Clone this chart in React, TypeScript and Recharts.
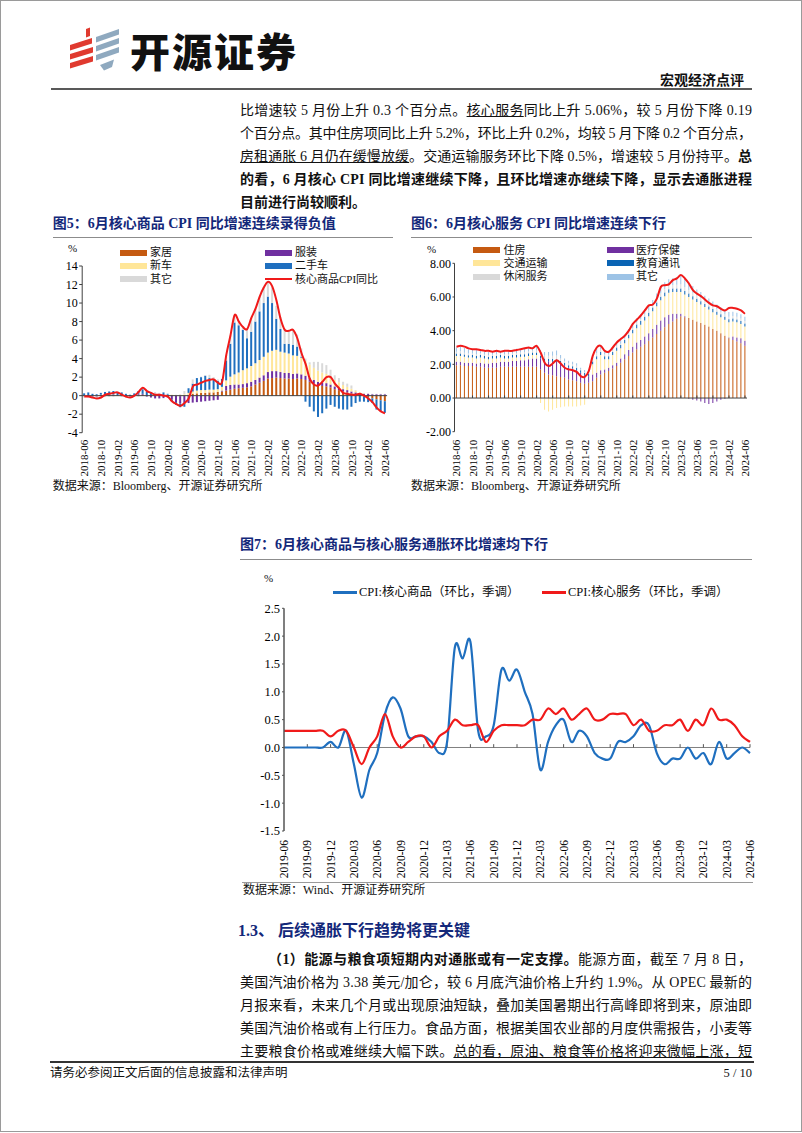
import React, { useLayoutEffect, useRef, useState } from 'react';
import { ComposedChart, LineChart, Bar, Line, XAxis, YAxis, ReferenceLine } from 'recharts';

const SERIF = "'Liberation Serif','Times New Roman',serif";
const MIX = "'Liberation Serif','Noto Sans CJK SC',serif";
const CJKSANS = "'Noto Sans CJK SC',sans-serif";
const NAVY = '#13287a';

// ---------- categories ----------
const months = [
  '2018-06','2018-07','2018-08','2018-09','2018-10','2018-11','2018-12',
  '2019-01','2019-02','2019-03','2019-04','2019-05','2019-06','2019-07','2019-08','2019-09','2019-10','2019-11','2019-12',
  '2020-01','2020-02','2020-03','2020-04','2020-05','2020-06','2020-07','2020-08','2020-09','2020-10','2020-11','2020-12',
  '2021-01','2021-02','2021-03','2021-04','2021-05','2021-06','2021-07','2021-08','2021-09','2021-10','2021-11','2021-12',
  '2022-01','2022-02','2022-03','2022-04','2022-05','2022-06','2022-07','2022-08','2022-09','2022-10','2022-11','2022-12',
  '2023-01','2023-02','2023-03','2023-04','2023-05','2023-06','2023-07','2023-08','2023-09','2023-10','2023-11','2023-12',
  '2024-01','2024-02','2024-03','2024-04','2024-05','2024-06',
];
const months7 = months.slice(12);

// ---------- Fig 5: core goods CPI YoY contributions ----------
const goodsHome = [
  0.05,0.05,0.0,0.0,0.05,0.05,0.1,0.1,0.05,0.05,0.0,0.0,0.05,0.1,0.1,0.05,0.05,0.0,0.0,0.05,0.05,
  0.05,0.0,-0.05,0.0,0.1,0.2,0.25,0.3,0.3,0.35,0.35,0.4,
  0.45,0.55,0.65,0.75,0.8,0.85,0.9,1.0,1.2,1.4,1.6,1.85,
  1.9,1.95,1.9,1.85,1.85,1.8,1.85,1.8,1.7,1.5,1.3,1.1,
  1.05,1.0,0.9,0.7,0.6,0.45,0.35,0.25,0.15,0.05,-0.1,-0.2,-0.3,-0.4,-0.5,-0.6,
];
const goodsApparel = [
  0.0,-0.05,-0.1,-0.1,-0.05,0.0,0.05,0.05,0.0,-0.05,-0.1,-0.1,0.0,0.1,0.1,-0.1,-0.2,-0.3,-0.3,-0.25,-0.2,
  -0.4,-0.7,-0.8,-0.85,-0.8,-0.75,-0.7,-0.65,-0.6,-0.55,-0.5,-0.45,
  0.1,0.5,0.5,0.45,0.4,0.4,0.45,0.5,0.5,0.55,0.6,0.7,
  0.75,0.7,0.65,0.6,0.6,0.55,0.55,0.5,0.45,0.45,0.4,0.4,
  0.35,0.35,0.3,0.3,0.25,0.25,0.25,0.2,0.2,0.2,0.2,0.2,0.15,0.15,0.15,0.15,
];
const goodsNewCar = [
  0.0,0.0,0.0,0.05,0.05,0.05,0.0,0.0,0.0,0.0,0.0,0.0,0.0,0.0,0.0,0.0,0.0,0.0,0.0,0.0,0.05,
  0.05,0.05,0.1,0.15,0.2,0.25,0.3,0.3,0.3,0.3,0.3,0.3,
  0.4,0.6,0.9,1.1,1.3,1.5,1.6,1.7,1.8,1.9,2.0,2.1,
  2.2,2.3,2.2,2.2,2.1,2.0,1.9,1.8,1.6,1.4,1.3,1.2,
  1.1,1.0,0.9,0.7,0.6,0.45,0.35,0.3,0.2,0.1,0.05,0.0,0.0,0.0,0.0,0.0,
];
const goodsUsedCar = [
  0.2,0.3,0.2,0.1,0.2,0.3,0.3,0.35,0.3,0.3,0.2,0.1,0.2,0.3,0.5,0.4,0.25,0.2,0.2,0.3,0.1,
  -0.2,-0.3,-0.4,-0.35,0.5,0.85,1.35,1.4,1.55,1.25,1.05,0.9,
  0.85,2.15,3.55,5.6,5.1,4.35,3.25,3.7,4.5,5.25,5.8,6.05,
  5.15,3.35,2.45,0.95,1.05,1.15,1.0,0.1,-0.65,-1.2,-1.7,-2.3,
  -1.9,-1.4,-1.0,-1.2,-1.4,-1.5,-1.5,-1.2,-0.8,-0.65,-0.55,-0.5,-0.5,-1.1,-1.2,-1.25,
];
const goodsOther = [
  -0.2,-0.15,-0.1,-0.2,-0.25,-0.15,-0.1,-0.1,0.0,-0.1,-0.15,-0.15,-0.1,-0.1,0.1,0.15,0.1,0.2,0.1,-0.05,-0.05,
  -0.1,0.05,0.05,0.35,0.0,0.45,0.0,0.05,0.05,0.35,0.3,0.15,
  0.0,0.6,0.9,0.8,0.4,0.3,1.0,1.5,1.4,1.6,1.7,1.6,
  1.7,1.4,1.3,1.6,1.4,1.6,1.3,0.9,0.25,0.25,0.65,0.95,
  1.0,0.95,0.7,0.5,0.45,0.35,0.35,0.35,0.05,0.0,0.05,0.05,0.05,0.05,0.05,0.05,
];
const goodsTotal = [
  -0.1,-0.1,-0.2,-0.3,-0.2,0.1,0.2,0.3,0.35,0.1,-0.1,-0.2,0.0,0.4,0.85,0.5,0.3,0.1,0.1,0.0,-0.1,
  -0.6,-0.9,-1.1,-0.8,-0.3,1.0,1.2,1.4,1.6,1.7,1.75,1.4,
  1.5,4.4,6.5,8.7,8.0,7.4,7.2,8.4,9.4,10.7,11.7,12.3,
  11.8,10.3,8.3,7.1,7.0,7.1,6.2,4.6,3.4,1.8,1.2,1.1,
  1.5,2.0,2.0,1.3,0.8,0.3,0.2,0.1,0.1,0.2,0.0,-0.3,-0.7,-1.3,-1.7,-1.9,
];

// ---------- Fig 6: core services CPI YoY contributions ----------
const svcShelter = [
  1.95,1.95,1.9,1.9,1.9,1.85,1.85,1.8,1.8,1.8,1.8,1.85,1.85,1.85,1.85,1.85,1.85,1.85,1.85,1.85,1.85,
  1.7,1.5,1.4,1.35,1.3,1.25,1.2,1.1,1.05,1.0,0.9,0.85,
  0.9,1.0,1.2,1.4,1.5,1.6,1.75,1.9,2.1,2.3,2.5,2.7,
  2.9,3.05,3.2,3.4,3.6,3.8,4.0,4.2,4.4,4.55,4.7,4.85,
  4.8,4.75,4.65,4.55,4.45,4.35,4.25,4.1,4.0,3.85,3.7,3.55,3.45,3.35,3.25,3.1,
];
const svcMedical = [
  0.2,0.2,0.2,0.2,0.2,0.2,0.25,0.25,0.25,0.3,0.3,0.3,0.3,0.3,0.35,0.35,0.4,0.4,0.45,0.5,0.5,
  0.65,0.7,0.75,0.8,0.85,0.8,0.75,0.7,0.7,0.65,0.6,0.5,
  0.4,0.4,0.3,0.25,0.2,0.2,0.2,0.2,0.25,0.3,0.35,0.35,
  0.4,0.4,0.45,0.45,0.5,0.55,0.6,0.6,0.55,0.45,0.3,0.15,
  0.05,-0.05,-0.1,-0.15,-0.2,-0.3,-0.35,-0.3,-0.2,-0.1,-0.05,0.05,0.2,0.25,0.3,0.3,
];
const svcTransport = [
  0.35,0.35,0.35,0.3,0.3,0.3,0.3,0.3,0.25,0.25,0.25,0.25,0.2,0.2,0.2,0.2,0.2,0.2,0.2,0.2,0.2,
  -0.3,-0.7,-0.8,-0.7,-0.6,-0.55,-0.5,-0.5,-0.5,-0.5,-0.45,-0.4,
  0.0,0.6,0.8,0.9,0.6,0.5,0.6,0.7,0.6,0.65,0.7,0.8,
  0.85,0.9,0.95,1.0,1.05,1.1,1.2,1.25,1.3,1.3,1.3,1.3,
  1.3,1.25,1.2,1.15,1.1,1.05,1.0,1.0,0.95,0.95,0.95,0.9,0.9,0.9,0.85,0.85,
];
const svcEduComm = [
  0.15,0.15,0.14,0.14,0.15,0.15,0.16,0.15,0.14,0.14,0.15,0.15,0.15,0.16,0.16,0.15,0.15,0.15,0.16,0.16,0.15,
  0.15,0.15,0.16,0.16,0.15,0.15,0.14,0.14,0.14,0.15,0.15,0.15,
  0.16,0.17,0.18,0.18,0.18,0.18,0.19,0.2,0.2,0.2,0.2,0.21,
  0.21,0.22,0.22,0.22,0.22,0.22,0.22,0.22,0.21,0.21,0.21,0.2,
  0.2,0.2,0.2,0.19,0.19,0.19,0.18,0.18,0.18,0.18,0.18,0.18,0.17,0.17,0.17,0.17,
];
const svcRecreation = [
  0.1,0.12,0.1,0.1,0.1,0.12,0.1,0.08,0.1,0.08,0.1,0.08,0.1,0.1,0.08,0.12,0.1,0.12,0.1,0.1,0.12,
  0.15,0.18,0.2,0.2,0.22,0.15,0.1,0.12,0.12,0.12,0.05,0.05,
  0.05,0.1,0.2,0.15,0.1,0.1,0.1,0.1,0.08,0.08,0.1,0.1,
  0.12,0.12,0.15,0.15,0.15,0.18,0.2,0.2,0.2,0.2,0.22,0.25,
  0.25,0.22,0.2,0.2,0.2,0.18,0.18,0.15,0.15,0.15,0.15,0.15,0.15,0.15,0.15,0.15,
];
const svcOther = [
  0.25,0.3,0.28,0.25,0.25,0.28,0.2,0.18,0.2,0.17,0.2,0.15,0.2,0.2,0.17,0.25,0.2,0.25,0.22,0.2,0.25,
  0.2,0.2,0.22,0.25,0.3,0.2,0.15,0.15,0.15,0.15,0.1,0.12,
  0.1,0.2,0.3,0.25,0.2,0.15,0.2,0.2,0.2,0.2,0.25,0.25,
  0.25,0.28,0.3,0.3,0.3,0.35,0.4,0.4,0.4,0.4,0.45,0.5,
  0.5,0.45,0.4,0.35,0.35,0.3,0.3,0.3,0.28,0.28,0.28,0.28,0.25,0.25,0.25,0.25,
];
const svcTotal = [
  3.05,3.1,3.05,2.95,2.9,2.9,2.85,2.8,2.8,2.75,2.8,2.75,2.8,2.8,2.8,2.85,2.9,2.95,3.0,2.95,3.1,
  2.7,2.1,1.9,2.05,2.25,2.05,1.8,1.7,1.65,1.55,1.3,1.25,
  1.6,2.5,3.0,3.1,2.8,2.75,3.0,3.3,3.5,3.7,4.0,4.4,
  4.65,4.9,5.2,5.5,5.55,5.9,6.6,6.7,6.75,7.0,7.1,7.3,
  7.1,6.8,6.4,6.2,6.05,5.85,5.65,5.5,5.45,5.3,5.2,5.35,5.35,5.3,5.2,5.0,
];

// ---------- Fig 7: MoM SA ----------
const momGoods = [
  0.0,0.0,0.0,0.0,0.0,0.0,0.1,0.0,0.3,-0.3,
  -0.9,-0.4,-0.1,0.6,0.9,0.7,0.2,0.2,0.2,0.1,
  -0.1,0.1,1.8,1.6,1.9,0.3,0.2,0.4,1.4,1.2,
  1.4,1.0,0.6,-0.4,0.1,0.4,0.5,0.1,0.3,0.2,
  -0.1,-0.2,-0.2,0.1,0.1,0.2,0.4,0.4,-0.1,-0.3,
  -0.2,-0.2,0.0,-0.2,-0.1,-0.3,0.1,-0.2,-0.1,0.0,
  -0.1,
];
const momServices = [
  0.3,0.3,0.3,0.3,0.3,0.3,0.2,0.3,0.3,0.0,
  -0.3,0.0,0.2,0.6,0.2,0.0,0.1,0.2,0.2,0.0,
  0.2,0.3,0.5,0.4,0.4,0.4,0.1,0.3,0.4,0.4,
  0.4,0.4,0.5,0.5,0.7,0.6,0.7,0.5,0.6,0.7,
  0.5,0.5,0.6,0.6,0.6,0.4,0.5,0.3,0.3,0.4,
  0.4,0.5,0.3,0.5,0.4,0.7,0.5,0.5,0.4,0.2,
  0.1,
];

const yTicks5 = [-4, -2, 0, 2, 4, 6, 8, 10, 12, 14];
const yTicks6 = [-2, 0, 2, 4, 6, 8];
const yTicks7 = [-1.5, -1, -0.5, 0, 0.5, 1, 1.5, 2, 2.5];

const names5 = ['家居', '服装', '新车', '二手车', '其它', '核心商品CPI同比'];
const colors5 = ['#c55a11', '#7030a0', '#ffe699', '#1f6fbf', '#d9d9d9', '#f01a1a'];
const names6 = ['住房', '医疗保健', '交通运输', '教育通讯', '休闲服务', '其它'];
const colors6 = ['#c55a11', '#7030a0', '#ffe699', '#0a64b4', '#d9d9d9', '#9dc3e6'];
const names7 = ['CPI:核心商品（环比，季调）', 'CPI:核心服务（环比，季调）'];
const colors7 = ['#1f6fbf', '#f01a1a'];

const data5 = months.map((m, i) => ({
  m, a: goodsHome[i], b: goodsApparel[i], c: goodsNewCar[i], d: goodsUsedCar[i], e: goodsOther[i], t: goodsTotal[i],
}));
const data6 = months.map((m, i) => ({
  m, a: svcShelter[i], b: svcMedical[i], c: svcTransport[i], d: svcEduComm[i], e: svcRecreation[i], f: svcOther[i], t: svcTotal[i],
}));
const data7 = months7.map((m, i) => ({ m, g: momGoods[i], s: momServices[i] }));

// Excel-like smoothed line (Catmull-Rom through every point)
const smooth = (context: any) => {
  let pts: number[][] = [];
  return {
    areaStart() {},
    areaEnd() {},
    lineStart() { pts = []; },
    lineEnd() {
      if (!pts.length) return;
      context.moveTo(pts[0][0], pts[0][1]);
      for (let i = 0; i < pts.length - 1; i++) {
        const p0 = pts[i - 1] || pts[i];
        const p1 = pts[i];
        const p2 = pts[i + 1];
        const p3 = pts[i + 2] || p2;
        context.bezierCurveTo(
          p1[0] + (p2[0] - p0[0]) / 6, p1[1] + (p2[1] - p0[1]) / 6,
          p2[0] - (p3[0] - p1[0]) / 6, p2[1] - (p3[1] - p1[1]) / 6,
          p2[0], p2[1],
        );
      }
    },
    point(x: number, y: number) { pts.push([+x, +y]); },
  };
};

const RotTick = (props: any) => {
  const { x, y, payload, fs } = props;
  return (
    <text x={x} y={y} transform={`rotate(-90 ${x} ${y})`} textAnchor="end" dominantBaseline="central"
      fontSize={fs} fontFamily={SERIF} fill="#000">{payload.value}</text>
  );
};

function FitLine({ x, y, w, children, style }: any) {
  const ref = useRef<HTMLSpanElement>(null);
  const [ls, setLs] = useState(0);
  useLayoutEffect(() => {
    const el = ref.current;
    if (!el) return;
    el.style.letterSpacing = '0px';
    const nat = el.getBoundingClientRect().width;
    const n = (el.textContent || '').length;
    if (n > 1) setLs((w - nat) / (n - 1));
  }, [w]);
  return (
    <div style={{ position: 'absolute', left: x, top: y - 10, height: 20, lineHeight: '20px', whiteSpace: 'nowrap',
      fontSize: 14, fontFamily: MIX, color: '#111', ...style }}>
      <span ref={ref} style={{ letterSpacing: ls + 'px' }}>{children}</span>
    </div>
  );
}

function T({ x, y, size = 12, children, weight = 400, color = '#111', family = MIX, right = false, style = {} }: any) {
  const lh = Math.round(size * 1.4);
  return (
    <div style={{ position: 'absolute', left: right ? undefined : x, right: right ? 802 - x : undefined, top: y - lh / 2,
      height: lh, lineHeight: lh + 'px', fontSize: size, fontWeight: weight, color, fontFamily: family,
      whiteSpace: 'nowrap', ...style }}>{children}</div>
  );
}

function Rule({ x1, x2, y, h = 1, color = '#888' }: any) {
  return <div style={{ position: 'absolute', left: x1, top: y - h / 2, width: x2 - x1, height: h, background: color }} />;
}

function Swatch({ x, y, color, line = false, w = 27 }: any) {
  const h = line ? 2.5 : 6;
  return <div style={{ position: 'absolute', left: x, top: y - h / 2, width: w, height: h, background: color }} />;
}

function Chart5() {
  return (
    <div style={{ position: 'absolute', left: 30, top: 240 }}>
      <ComposedChart width={370} height={245} data={data5} stackOffset="sign" barCategoryGap="22%"
        margin={{ top: 26, right: 12.9, bottom: 2.3, left: 7.2 }}>
        <XAxis dataKey="m" interval={3} axisLine={false} tickLine={false} tickSize={0} tickMargin={7} height={50}
          tick={(p: any) => <RotTick {...p} fs={11} />} />
        <YAxis domain={[-4, 14]} ticks={yTicks5} interval={0} width={45} tickSize={3} tickMargin={1.5}
          axisLine={{ stroke: '#404040' }} tickLine={{ stroke: '#404040' }}
          tick={{ fontSize: 12, fontFamily: SERIF, fill: '#000' }} />
        <ReferenceLine y={0} stroke="#404040" strokeWidth={1} />
        <Bar dataKey="a" stackId="s" fill={colors5[0]} isAnimationActive={false} />
        <Bar dataKey="b" stackId="s" fill={colors5[1]} isAnimationActive={false} />
        <Bar dataKey="c" stackId="s" fill={colors5[2]} isAnimationActive={false} />
        <Bar dataKey="d" stackId="s" fill={colors5[3]} isAnimationActive={false} />
        <Bar dataKey="e" stackId="s" fill={colors5[4]} isAnimationActive={false} />
        <Line dataKey="t" type={smooth as any} stroke={colors5[5]} strokeWidth={2} dot={false} isAnimationActive={false} />
      </ComposedChart>
    </div>
  );
}

function Chart6() {
  return (
    <div style={{ position: 'absolute', left: 405, top: 240 }}>
      <ComposedChart width={350} height={245} data={data6} stackOffset="sign" barCategoryGap="35%"
        margin={{ top: 23.3, right: 8, bottom: 3.3, left: 4.5 }}>
        <XAxis dataKey="m" interval={3} axisLine={false} tickLine={false} tickSize={0} tickMargin={8} height={50}
          tick={(p: any) => <RotTick {...p} fs={11} />} />
        <YAxis domain={[-2, 8]} ticks={yTicks6} interval={0} width={45} tickSize={2} tickMargin={1.5}
          axisLine={{ stroke: '#404040' }} tickLine={{ stroke: '#404040' }}
          tickFormatter={(v: number) => v.toFixed(2)}
          tick={{ fontSize: 12, fontFamily: SERIF, fill: '#000' }} />
        <Bar dataKey="a" stackId="s" fill={colors6[0]} isAnimationActive={false} />
        <Bar dataKey="b" stackId="s" fill={colors6[1]} isAnimationActive={false} />
        <Bar dataKey="c" stackId="s" fill={colors6[2]} isAnimationActive={false} />
        <Bar dataKey="d" stackId="s" fill={colors6[3]} isAnimationActive={false} />
        <Bar dataKey="e" stackId="s" fill={colors6[4]} isAnimationActive={false} />
        <Bar dataKey="f" stackId="s" fill={colors6[5]} isAnimationActive={false} />
        <ReferenceLine y={0} stroke="#404040" strokeWidth={1} />
        {months.filter((_, i) => i % 4 === 0 && i > 0).map((m) => (
          <ReferenceLine key={m} segment={[{ x: m, y: 0 }, { x: m, y: 0.15 }]} stroke="#404040" />
        ))}
        <Line dataKey="t" type={smooth as any} stroke="#f01a1a" strokeWidth={2} dot={false} isAnimationActive={false} />
      </ComposedChart>
    </div>
  );
}

function Chart7() {
  return (
    <div style={{ position: 'absolute', left: 230, top: 570 }}>
      <LineChart width={530} height={310} data={data7} margin={{ top: 38.3, right: 10, bottom: 3, left: 4 }}>
        <XAxis dataKey="m" interval={2} axisLine={false} tickLine={false} tickSize={0} tickMargin={9} height={46}
          tick={(p: any) => <RotTick {...p} fs={11.5} />} />
        <YAxis domain={[-1.5, 2.5]} ticks={yTicks7} interval={0} width={50} tickSize={2} tickMargin={2}
          axisLine={{ stroke: '#555', strokeWidth: 1.5 }} tickLine={{ stroke: '#555' }}
          tickFormatter={(v: number) => v.toFixed(1)}
          tick={{ fontSize: 12.5, fontFamily: SERIF, fill: '#000' }} />
        <ReferenceLine y={0} stroke="#808080" strokeWidth={1} />
        {months7.filter((_, i) => i % 3 === 0 && i > 0).map((m) => (
          <ReferenceLine key={m} segment={[{ x: m, y: 0 }, { x: m, y: 0.06 }]} stroke="#555" />
        ))}
        <Line dataKey="g" type={smooth as any} stroke={colors7[0]} strokeWidth={2.2} dot={false} isAnimationActive={false} />
        <Line dataKey="s" type={smooth as any} stroke={colors7[1]} strokeWidth={2.2} dot={false} isAnimationActive={false} />
      </LineChart>
    </div>
  );
}

function Logo() {
  return (
    <svg style={{ position: 'absolute', left: 0, top: 0 }} width={140} height={80}>
      <g fill="#e03a2f">
        <polygon points="86,29 90,27.5 90,36 86,37.5" />
        <polygon points="70,45 92,38 92,43.5 70,50.5" />
        <polygon points="70,54 93,47 93,52.5 70,59.5" />
        <polygon points="70,63 93,56 93,61.5 70,68.5" />
      </g>
      <g fill="#8fa9bf">
        <polygon points="96,37 119,29 119,34.5 96,42.5" />
        <polygon points="96,46 119,38 119,43.5 96,51.5" />
        <polygon points="96,55 119,47 119,52.5 96,60.5" />
        <polygon points="100,65 114,59.5 112,67 104,70.5" />
      </g>
    </svg>
  );
}

export default function App() {
  const W = 512;
  return (
    <div style={{ position: 'absolute', left: 0, top: 0, width: 802, height: 1133, background: '#fff', overflow: 'hidden' }}>
      <div style={{ position: 'absolute', left: 0, top: 0, width: 800, height: 1130, border: '1px solid #9a9a9a' }} />
      <Logo />
      <T x={130} y={50} size={40} weight={900} color="#111" family={CJKSANS} style={{ letterSpacing: '2px' }}>开源证券</T>
      <T x={744} y={81} size={14} weight={700} right>宏观经济点评</T>
      <Rule x1={51} x2={752} y={89} h={2} color="#595959" />

      <FitLine x={240} y={111} w={W}>比增速较 5 月份上升 0.3 个百分点。<span style={{ textDecoration: 'underline' }}>核心服务</span>同比上升 5.06%，较 5 月份下降 0.19</FitLine>
      <FitLine x={240} y={134} w={W}>个百分点。其中住房项同比上升 5.2%，环比上升 0.2%，均较 5 月下降 0.2 个百分点，</FitLine>
      <FitLine x={240} y={157} w={W}><span style={{ textDecoration: 'underline' }}>房租通胀 6 月仍在缓慢放缓</span>。交通运输服务环比下降 0.5%，增速较 5 月份持平。<b>总</b></FitLine>
      <FitLine x={240} y={180} w={W} style={{ fontWeight: 700 }}>的看，6 月核心 CPI 同比增速继续下降，且环比增速亦继续下降，显示去通胀进程</FitLine>
      <T x={240} y={203} size={14} weight={700}>目前进行尚较顺利。</T>

      <T x={52.7} y={224} size={14} weight={700} color={NAVY}>图5：6月核心商品 CPI 同比增速连续录得负值</T>
      <Rule x1={52.7} x2={393} y={237} color="#8c8c8c" />
      <T x={411} y={224} size={14} weight={700} color={NAVY}>图6：6月核心服务 CPI 同比增速连续下行</T>
      <Rule x1={411} x2={752} y={237} color="#8c8c8c" />

      <Chart5 />
      <T x={68} y={248.5} size={11}>%</T>
      <Swatch x={120} y={252.7} color={colors5[0]} />
      <T x={150} y={252.7} size={11}>{names5[0]}</T>
      <Swatch x={265} y={252.7} color={colors5[1]} />
      <T x={295} y={252.7} size={11}>{names5[1]}</T>
      <Swatch x={120} y={265.5} color={colors5[2]} />
      <T x={150} y={265.5} size={11}>{names5[2]}</T>
      <Swatch x={265} y={265.5} color={colors5[3]} />
      <T x={295} y={265.5} size={11}>{names5[3]}</T>
      <Swatch x={120} y={279} color={colors5[4]} />
      <T x={150} y={279} size={11}>{names5[4]}</T>
      <Swatch x={265} y={279} color={colors5[5]} line />
      <T x={295} y={279} size={11}>{names5[5]}</T>
      <T x={52.7} y={486} size={12}>数据来源：Bloomberg、开源证券研究所</T>

      <Chart6 />
      <T x={427} y={249.3} size={11}>%</T>
      <Swatch x={473.3} y={250} color={colors6[0]} />
      <T x={503.5} y={250} size={11}>{names6[0]}</T>
      <Swatch x={606.7} y={250} color={colors6[1]} />
      <T x={636} y={250} size={11}>{names6[1]}</T>
      <Swatch x={473.3} y={263.3} color={colors6[2]} />
      <T x={503.5} y={263.3} size={11}>{names6[2]}</T>
      <Swatch x={606.7} y={263.3} color={colors6[3]} />
      <T x={636} y={263.3} size={11}>{names6[3]}</T>
      <Swatch x={473.3} y={276.7} color={colors6[4]} />
      <T x={503.5} y={276.7} size={11}>{names6[4]}</T>
      <Swatch x={606.7} y={276.7} color={colors6[5]} />
      <T x={636} y={276.7} size={11}>{names6[5]}</T>
      <T x={411} y={486} size={12}>数据来源：Bloomberg、开源证券研究所</T>

      <T x={240} y={545} size={14} weight={700} color={NAVY}>图7：6月核心商品与核心服务通胀环比增速均下行</T>
      <Rule x1={240} x2={752} y={559} color="#8c8c8c" />
      <Chart7 />
      <T x={264} y={578.3} size={11}>%</T>
      <Swatch x={333} y={592.3} color={colors7[0]} line w={24} />
      <T x={359} y={592.3} size={12.5}>{names7[0]}</T>
      <Swatch x={541.6} y={592.3} color={colors7[1]} line w={24} />
      <T x={568} y={592.3} size={12.5}>{names7[1]}</T>
      <Rule x1={242} x2={753} y={882.5} color="#9a9a9a" />
      <T x={243} y={890} size={12}>数据来源：Wind、开源证券研究所</T>

      <T x={238} y={931} size={16} weight={700} color={NAVY}>1.3、 后续通胀下行趋势将更关键</T>
      <FitLine x={268} y={960} w={W - 28}><b>（1）能源与粮食项短期内对通胀或有一定支撑。</b>能源方面，截至 7 月 8 日，</FitLine>
      <FitLine x={240} y={983} w={W}>美国汽油价格为 3.38 美元/加仑，较 6 月底汽油价格上升约 1.9%。从 OPEC 最新的</FitLine>
      <FitLine x={240} y={1006} w={W}>月报来看，未来几个月或出现原油短缺，叠加美国暑期出行高峰即将到来，原油即</FitLine>
      <FitLine x={240} y={1029} w={W}>美国汽油价格或有上行压力。食品方面，根据美国农业部的月度供需报告，小麦等</FitLine>
      <FitLine x={240} y={1052} w={W}>主要粮食价格或难继续大幅下跌。<span style={{ textDecoration: 'underline' }}>总的看，原油、粮食等价格将迎来微幅上涨，短</span></FitLine>
      <Rule x1={50} x2={754} y={1062} h={1.5} color="#333" />
      <T x={50} y={1072.5} size={12.5}>请务必参阅正文后面的信息披露和法律声明</T>
      <T x={752} y={1072.5} size={12.5} family={SERIF} right>5 / 10</T>
    </div>
  );
}
